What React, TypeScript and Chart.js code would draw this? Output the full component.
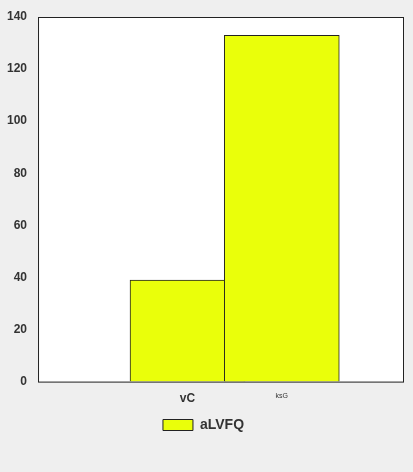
import React, { useRef, useEffect } from "react";
import { Chart, ChartConfiguration, registerables } from "chart.js";
Chart.register(...registerables);

const labels = ["vC", "ksG"];
const values = [39, 133];
const seriesName = "aLVFQ";

const plotBg = {
  id: "plotBg",
  beforeDraw(chart: any) {
    const { ctx, chartArea: a } = chart;
    ctx.save();
    ctx.fillStyle = "#ffffff";
    ctx.fillRect(a.left, a.top, a.right - a.left, a.bottom - a.top);
    ctx.restore();
  },
  afterDraw(chart: any) {
    const { ctx, chartArea: a } = chart;
    ctx.save();
    ctx.strokeStyle = "#222";
    ctx.lineWidth = 1;
    ctx.strokeRect(a.left + 0.5, a.top + 0.5, a.right - a.left, a.bottom - a.top);
    ctx.restore();
  },
};

const App: React.FC = () => {
  const chartRef = useRef<HTMLCanvasElement>(null);

  useEffect(() => {
    document.body.style.margin = "0";
    document.body.style.background = "#efefef";
    if (chartRef.current) {
      const config: ChartConfiguration = {
        type: "bar",
        data: {
          datasets: [
            {
              label: seriesName,
              data: values.map((v, i) => ({ x: i, y: v })),
              backgroundColor: "#eaff0a",
              borderColor: "#222",
              borderWidth: 1,
              barThickness: 115,
            },
          ],
        },
        options: {
          animation: false,
          responsive: false,
          layout: { padding: { top: 17, right: 10, left: 4 } },
          plugins: {
            legend: {
              position: "bottom",
              labels: {
                boxWidth: 30,
                boxHeight: 11,
                color: "#333",
                font: { family: "Liberation Sans", size: 14, weight: "bold" },
              },
            },
            tooltip: { enabled: false },
          },
          scales: {
            x: {
              type: "linear",
              min: -0.618,
              max: 1.318,
              grid: { display: false },
              border: { display: false },
              afterBuildTicks: (axis: any) => {
                axis.ticks = labels.map((_, i) => ({ value: i }));
              },
              ticks: {
                color: "#333",
                padding: 2,
                callback: (v: any) => labels[v] ?? "",
                font: (c: any) => ({
                  family: "Liberation Sans",
                  size: c.index === 1 ? 7 : 12,
                  weight: c.index === 1 ? "normal" : "bold",
                }),
              },
            },
            y: {
              min: 0,
              max: 140,
              grid: { display: false },
              border: { display: false },
              ticks: {
                stepSize: 20,
                color: "#333",
                font: { family: "Liberation Sans", size: 12, weight: "bold" },
              },
            },
          },
        },
        plugins: [plotBg],
      };
      const chart = new Chart(chartRef.current, config);
      return () => chart.destroy();
    }
  }, []);

  return (
    <div style={{ width: 413, height: 472, background: "#efefef" }}>
      <canvas ref={chartRef} width={413} height={442}></canvas>
    </div>
  );
};

export default App;
